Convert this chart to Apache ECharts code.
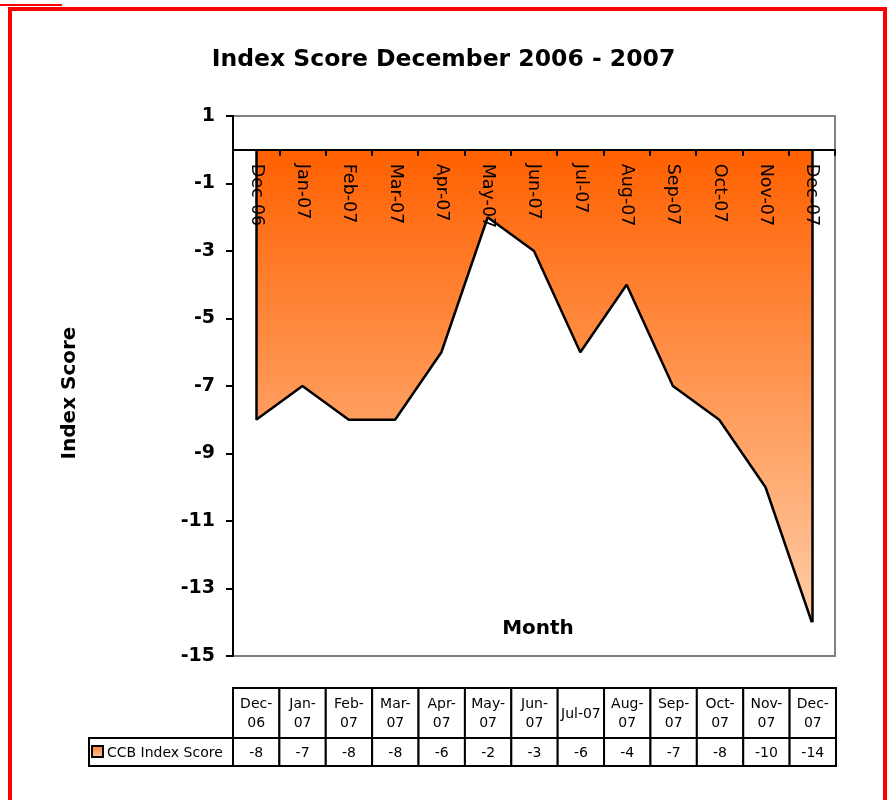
<!DOCTYPE html>
<html>
<head>
<meta charset="utf-8">
<script src="https://cdn.jsdelivr.net/npm/echarts@6/dist/echarts.min.js"></script>
<style>
html,body{margin:0;padding:0;background:#fff;}
#chart{width:887px;height:800px;}
</style>
</head>
<body>
<div id="chart"></div>
<script>
const categories = ["Dec-06","Jan-07","Feb-07","Mar-07","Apr-07","May-07","Jun-07","Jul-07","Aug-07","Sep-07","Oct-07","Nov-07","Dec-07"];
const values = [-8,-7,-8,-8,-6,-2,-3,-6,-4,-7,-8,-10,-14];
const tableHeaders = ["Dec-\n06","Jan-\n07","Feb-\n07","Mar-\n07","Apr-\n07","May-\n07","Jun-\n07","Jul-07","Aug-\n07","Sep-\n07","Oct-\n07","Nov-\n07","Dec-\n07"];
const seriesName = "CCB Index Score";
const yMin = -15, yMax = 1, yStep = 2;

const gridTop = 116, gridHeight = 540;
// distance of the zero line above the grid bottom, from the y scale
const zeroOffset = -((0 - yMin) / (yMax - yMin)) * gridHeight;

const chart = echarts.init(document.getElementById('chart'), null, {renderer:'canvas'});
const areaGradient = new echarts.graphic.LinearGradient(0,0,0,1,[
  {offset:0,color:'#FF6000'},{offset:1,color:'#FFCDA6'}
]);
const keyGradient = new echarts.graphic.LinearGradient(0,0,0,1,[
  {offset:0,color:'#FF7A30'},{offset:1,color:'#FFC8A0'}
]);
const headerH = 50;

const option = {
  backgroundColor:'#fff',
  animation:false,
  title:{
    text:'Index Score December 2006 - 2007',
    left:'center', top:43,
    textStyle:{fontFamily:'DejaVu Sans', fontWeight:'bold', fontSize:23.5, color:'#000'}
  },
  grid:[
    {left:233, top:gridTop, width:602, height:gridHeight, show:true, borderColor:'#808080', borderWidth:2, backgroundColor:'transparent'},
    {left:233, top:688, width:603, height:78}
  ],
  xAxis:[
    {type:'category', gridIndex:0, data:categories, boundaryGap:true, position:'bottom', offset:zeroOffset,
     axisLine:{onZero:false, lineStyle:{color:'#000', width:2}},
     axisTick:{show:true, length:6, lineStyle:{color:'#000', width:2}},
     axisLabel:{rotate:-90, margin:14, fontFamily:'DejaVu Sans', fontSize:17.5, color:'#000', interval:0},
     splitLine:{show:false}, z:5},
    {type:'category', gridIndex:1, data:categories, show:false}
  ],
  yAxis:[
    {type:'value', gridIndex:0, min:yMin, max:yMax, interval:yStep,
     axisLine:{show:true, onZero:false, lineStyle:{color:'#000', width:2}},
     axisTick:{show:true, length:7, lineStyle:{color:'#000', width:2}},
     axisLabel:{margin:18, fontFamily:'DejaVu Sans', fontWeight:'bold', fontSize:19, color:'#000'},
     splitLine:{show:false}},
    {type:'value', gridIndex:1, min:0, max:1, show:false}
  ],
  series:[
    {name:seriesName, type:'line', xAxisIndex:0, yAxisIndex:0, data:values,
     symbol:'none', lineStyle:{color:'#000', width:2.5}, areaStyle:{color:areaGradient, opacity:1},
     z:3,
     markLine:{silent:true, symbol:['none','none'], label:{show:false},
       lineStyle:{color:'#000', width:2.5, type:'solid'},
       data:[
         [{coord:[categories[0],0]},{coord:[categories[0],values[0]]}],
         [{coord:[categories[categories.length-1],0]},{coord:[categories[categories.length-1],values[values.length-1]]}]
       ]}
    },
    {type:'custom', xAxisIndex:1, yAxisIndex:1, silent:true,
     data:categories.map((c,i)=>[i, values[i]]),
     renderItem:function(params, api){
       const idx = api.value(0);
       const cx = api.coord([idx, 0])[0];
       const w = api.size([1,0])[0];
       const cs = params.coordSys;
       const left = cx - w/2;
       const vh = cs.height - headerH;
       return {type:'group', children:[
         {type:'rect', shape:{x:left, y:cs.y, width:w, height:headerH}, style:{fill:'#fff', stroke:'#000', lineWidth:2}},
         {type:'rect', shape:{x:left, y:cs.y+headerH, width:w, height:vh}, style:{fill:'#fff', stroke:'#000', lineWidth:2}},
         {type:'text', style:{text:tableHeaders[idx], x:cx, y:cs.y+headerH/2+1, align:'center', verticalAlign:'middle', fontFamily:'DejaVu Sans', fontSize:14, lineHeight:19, fill:'#000'}},
         {type:'text', style:{text:String(api.value(1)), x:cx, y:cs.y+headerH+vh/2+1, align:'center', verticalAlign:'middle', fontFamily:'DejaVu Sans', fontSize:14, fill:'#000'}}
       ]};
     }
    }
  ],
  graphic:[
    {type:'rect', shape:{x:10, y:9, width:875, height:900}, style:{fill:'none', stroke:'#FF0000', lineWidth:4}, silent:true},
    {type:'line', shape:{x1:0, y1:5, x2:62, y2:5}, style:{stroke:'#FF0000', lineWidth:2}, silent:true},
    {type:'text', x:70, y:393, rotation:Math.PI/2, style:{text:'Index Score', align:'center', verticalAlign:'middle', fontFamily:'DejaVu Sans', fontWeight:'bold', fontSize:20, fill:'#000'}},
    {type:'text', x:538, y:629, style:{text:'Month', align:'center', verticalAlign:'middle', fontFamily:'DejaVu Sans', fontWeight:'bold', fontSize:20, fill:'#000'}, z:10},
    {type:'rect', shape:{x:89, y:738, width:144, height:28}, style:{fill:'#fff', stroke:'#000', lineWidth:2}, silent:true},
    {type:'rect', shape:{x:92, y:746, width:11, height:11}, style:{fill:keyGradient, stroke:'#000', lineWidth:2}, silent:true},
    {type:'text', x:107, y:753, style:{text:seriesName, align:'left', verticalAlign:'middle', fontFamily:'DejaVu Sans', fontSize:14, fill:'#000'}, silent:true}
  ]
};
chart.setOption(option);
</script>
</body>
</html>
